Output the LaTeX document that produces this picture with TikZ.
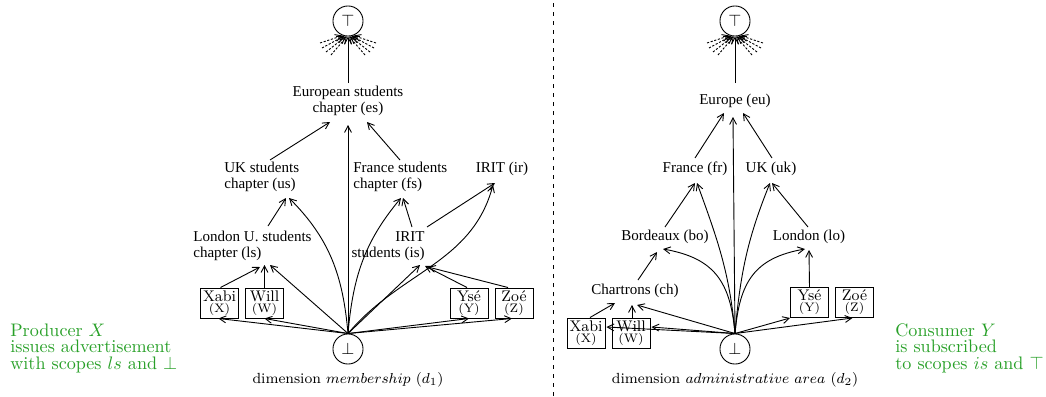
\documentclass[tikz,border=0pt]{standalone}
\usepackage{fontspec}
\newfontfamily\tms{Liberation Serif}
\usetikzlibrary{arrows.meta,calc}
\definecolor{grn}{RGB}{40,160,40}
\begin{document}
\begin{tikzpicture}[x=0.552pt,y=0.552pt,
  arr/.style={-{Straight Barb[length=3.6pt,width=3.8pt]}, line width=0.5pt},
  fan/.style={arr, dash pattern=on 1.2pt off 0.9pt},
  lbl/.style={font=\tms\fontsize{8.3}{8.8}\selectfont, inner sep=0},
  box/.style={draw, line width=0.5pt, minimum width=21pt, minimum height=16.6pt, inner sep=0, align=center, font=\fontsize{8.5}{6}\selectfont},
  bnode/.style={draw, circle, minimum size=16.6pt, inner sep=0, line width=0.5pt, font=\fontsize{9}{9}\selectfont},
  dimlbl/.style={font=\fontsize{8.1}{9}\selectfont, inner sep=0},
  note/.style={text=grn, font=\fontsize{10}{12}\selectfont, inner sep=0, anchor=base west},
  sep/.style={dash pattern=on 2.2pt off 2.8pt, line width=0.45pt}
]
\useasboundingbox (0,0) rectangle (1046,396);

% ---------------- left dimension ----------------
\node[bnode] (T1) at (348,375) {$\top$};
\node[bnode] (B1) at (348,47) {$\bot$};
\node[lbl, align=center] (es) at (348,295) {European students\\chapter (es)};
\node[lbl, align=left, anchor=west] (us) at (224,219.5) {UK students\\chapter (us)};
\node[lbl, align=left, anchor=west] (fs) at (353,219.5) {France students\\chapter (fs)};
\node[lbl] (ir) at (502,227) {IRIT (ir)};
\node[lbl, align=left, anchor=west] (ls) at (193,150) {London U. students\\chapter (ls)};
\node[lbl, align=right, anchor=east] (is) at (425,150) {IRIT\\students (is)};
\node[box] (x1) at (219.5,93) {Xabi\\{\fontsize{6.8}{6}\selectfont (X)}};
\node[box] (w1) at (264.5,93) {Will\\{\fontsize{6.8}{6}\selectfont (W)}};
\node[box] (y1) at (469,93) {Ysé\\{\fontsize{6.8}{6}\selectfont (Y)}};
\node[box] (z1) at (514,93) {Zoé\\{\fontsize{6.8}{6}\selectfont (Z)}};
\node[dimlbl] (d1) at (348,16) {dimension $membership$ ($d_1$)};

\foreach \dx/\dy/\a in {-28/-22/250,-26/-27/256,-22/-31/262,-17/-34/266,28/-22/290,26/-27/284,22/-31/278,17/-34/274}
  \draw[fan] ($(T1)+(\dx,\dy)$) -- (T1.\a);

\draw[arr] ($(es)+(0,18)$) -- (T1.south);
\draw[arr] ($(us.west)+(46,16.5)$) -- ($(es)+(-18,-21)$);
\draw[arr] ($(fs.west)+(47,16.5)$) -- ($(es)+(19,-21)$);
\draw[arr] (B1.north) -- ($(es)+(0,-24)$);
\draw[arr] ($(ls.west)+(75,20)$) -- ($(us.west)+(62,-21.5)$);
\draw[arr] (B1.north) to[out=95,in=-45] ($(us.west)+(65,-21.5)$);
\draw[arr] ($(is.east)+(-13,19)$) -- ($(fs.west)+(50,-21.5)$);
\draw[arr] (B1.north) to[out=85,in=-130] ($(fs.west)+(48,-21.5)$);
\draw[arr] ($(is.east)+(2,19)$) -- ($(ir)+(-7,-14)$);
\draw[arr] (B1.north) to[out=50,in=-105] ($(ir)+(-9,-16)$);
\draw[arr] ($(x1.north)+(1,0)$) -- ($(ls.west)+(67,-21)$);
\draw[arr] (w1.north) -- ($(ls.west)+(71.5,-19)$);
\draw[arr] (B1.north) -- ($(ls.west)+(77,-19)$);
\draw[arr] (B1.north) -- ($(is.east)+(-5,-19)$);
\draw[arr] ($(y1.north)+(-2,0)$) -- ($(is.east)+(0,-20)$);
\draw[arr] ($(z1.north)+(-6,0)$) -- ($(is.east)+(3,-21)$);
\draw[arr] (B1.north) -- ($(x1.south)+(-1,0)$);
\draw[arr] (B1.north) -- (w1.south);
\draw[arr] (B1.north) -- (y1.south);
\draw[arr] (B1.north) -- ($(z1.south)+(-2,0)$);

% ---------------- separator ----------------
\draw[sep] (553,0) -- (553,396);

% ---------------- right dimension ----------------
\node[bnode] (T2) at (735,375) {$\top$};
\node[bnode] (B2) at (735,47) {$\bot$};
\node[lbl] (eu) at (735,295) {Europe (eu)};
\node[lbl] (fr) at (695,227) {France (fr)};
\node[lbl] (uk) at (771,227) {UK (uk)};
\node[lbl] (bo) at (665,159) {Bordeaux (bo)};
\node[lbl] (lo) at (809,159) {London (lo)};
\node[lbl] (ch) at (635,105) {Chartrons (ch)};
\node[box] (x2) at (586,63) {Xabi\\{\fontsize{6.8}{6}\selectfont (X)}};
\node[box] (w2) at (631,63) {Will\\{\fontsize{6.8}{6}\selectfont (W)}};
\node[box] (y2) at (809.5,93.5) {Ysé\\{\fontsize{6.8}{6}\selectfont (Y)}};
\node[box] (z2) at (854.5,93.5) {Zoé\\{\fontsize{6.8}{6}\selectfont (Z)}};
\node[dimlbl] (d2) at (735,16) {dimension $administrative$ $area$ ($d_2$)};

\foreach \dx/\dy/\a in {-28/-22/250,-26/-27/256,-22/-31/262,-17/-34/266,28/-22/290,26/-27/284,22/-31/278,17/-34/274}
  \draw[fan] ($(T2)+(\dx,\dy)$) -- (T2.\a);

\draw[arr] ($(eu)+(0,18)$) -- (T2.south);
\draw[arr] (B2.north) -- ($(eu)+(-2,-16)$);
\draw[arr] ($(fr)+(0,11)$) -- ($(eu)+(-11,-12)$);
\draw[arr] ($(uk)+(1,11)$) -- ($(eu)+(8,-12)$);
\draw[arr] ($(bo)+(0,10)$) -- ($(fr)+(0,-14)$);
\draw[arr] (B2.north) to[out=95,in=-70] ($(fr)+(2,-14)$);
\draw[arr] (B2.north) to[out=85,in=-112] ($(uk)+(-1,-14)$);
\draw[arr] ($(lo)+(-1,10)$) -- ($(uk)+(1,-14)$);
\draw[arr] (B2.north) to[out=95,in=-10,looseness=1.2] ($(bo)+(-2,-12)$);
\draw[arr] (B2.north) to[out=85,in=-170,looseness=1.2] ($(lo)+(-4,-12)$);
\draw[arr] ($(ch)+(3,11)$) -- ($(bo)+(-8,-15)$);
\draw[arr] ($(x2.north)+(4,0)$) -- ($(ch)+(-20,-12)$);
\draw[arr] ($(w2.north)+(1,0)$) -- ($(ch)+(-3,-14)$);
\draw[arr] (B2.north) -- ($(ch)+(2,-14)$);
\draw[arr] (B2.north) -- ($(x2.east)+(1,6)$);
\draw[arr] (B2.north) -- ($(w2.east)+(1,6)$);
\draw[arr] (B2.north) -- (y2.south west);
\draw[arr] (B2.north) -- ($(z2.south)+(-2,0)$);
\draw[arr] (y2.north) -- ($(lo)+(0,-13)$);

% ---------------- notes ----------------
\node[note] (n1a) at (10,60) {Producer $X$};
\node[note] (n1b) at (10,43.5) {issues advertisement};
\node[note] (n1c) at (10,27) {with scopes $ls$ and $\bot$};
\node[note] (n2a) at (895,60) {Consumer $Y$};
\node[note] (n2b) at (895,43.5) {is subscribed};
\node[note] (n2c) at (895,27) {to scopes $is$ and $\top$};
\end{tikzpicture}
\end{document}
